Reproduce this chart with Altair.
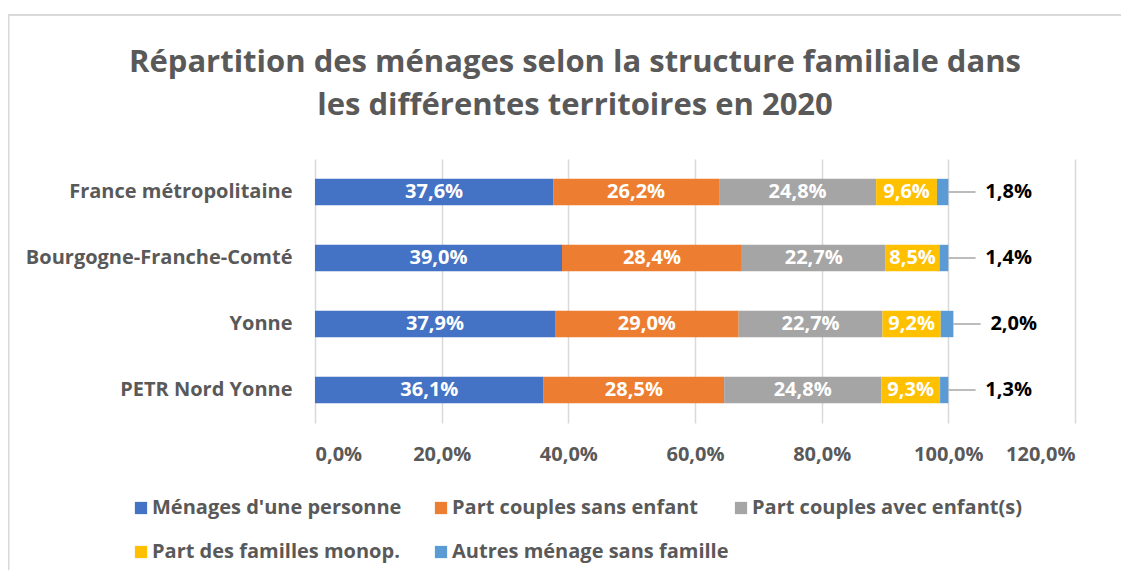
import altair as alt
import pandas as pd

territories = ["France métropolitaine", "Bourgogne-Franche-Comté", "Yonne", "PETR Nord Yonne"]
series = ["Ménages d'une personne", "Part couples sans enfant", "Part couples avec enfant(s)",
          "Part des familles monop.", "Autres ménage sans famille"]
colors = ["#4472C4", "#ED7D31", "#A5A5A5", "#FFC000", "#5B9BD5"]

personne = [37.6, 39.0, 37.9, 36.1]
sans_enfant = [26.2, 28.4, 29.0, 28.5]
avec_enfant = [24.8, 22.7, 22.7, 24.8]
monop = [9.6, 8.5, 9.2, 9.3]
autres = [1.8, 1.4, 2.0, 1.3]

x_ticks = [0, 20, 40, 60, 80, 100, 120]

values = [personne, sans_enfant, avec_enfant, monop, autres]
rows = []
for si, (s, vals) in enumerate(zip(series, values)):
    for ti, t in enumerate(territories):
        rows.append({"territory": t, "series": s, "order": si, "value": vals[ti]})
df = pd.DataFrame(rows)

# legend is filled column by column (2 rows): reorder domain so rows read like the reference
legend_domain = [series[0], series[3], series[1], series[4], series[2]]
legend_range = [colors[series.index(s)] for s in legend_domain]

FONT = "Open Sans"
GRAY = "#595959"
FS = 20

base = alt.Chart(df).transform_stack(
    stack="value", as_=["x0", "x1"], groupby=["territory"],
    sort=[alt.SortField("order", order="ascending")]
).transform_calculate(
    mid="(datum.x0 + datum.x1) / 2",
    label="replace(format(datum.value, '.1f'), '.', ',') + '%'",
    lead="datum.x1 + 4.3",
)

yenc = alt.Y("territory:N", sort=territories,
             scale=alt.Scale(paddingInner=0.6, paddingOuter=0.3),
             axis=alt.Axis(title=None, domain=False, ticks=False, labelPadding=23,
                           labelFont=FONT, labelFontSize=FS, labelFontWeight="bold",
                           labelColor=GRAY, labelLimit=400))

xscale = alt.Scale(domain=[0, 120], nice=False)

bars = base.mark_bar().encode(
    x=alt.X("x0:Q", scale=xscale,
            axis=alt.Axis(title=None, values=x_ticks, domain=False, ticks=True,
                          tickColor="#D9D9D9", tickSize=0, grid=True, gridColor="#D9D9D9",
                          gridWidth=1.5, labelPadding=21,
                          labelExpr="replace(format(datum.value, '.1f'), '.', ',') + '%'",
                          labelFont=FONT, labelFontSize=FS, labelFontWeight="bold",
                          labelColor=GRAY)),
    x2="x1:Q",
    y=yenc,
    color=alt.Color("series:N", scale=alt.Scale(domain=legend_domain, range=legend_range),
                    legend=alt.Legend(title=None, orient="none", legendX=-184, legendY=339,
                                      columns=3, gridAlign="all", columnPadding=2,
                                      rowPadding=24, symbolType="square", symbolSize=150,
                                      symbolStrokeWidth=0, labelFont=FONT, labelFontSize=20,
                                      labelFontWeight="bold", labelColor=GRAY, labelOffset=1,
                                      labelLimit=400, padding=0)),
    order=alt.Order("order:Q"),
)

inner = base.transform_filter("datum.order < 4").mark_text(
    font=FONT, fontSize=FS, fontWeight="bold", color="white"
).encode(x=alt.X("mid:Q", scale=xscale), y=alt.Y("territory:N", sort=territories), text="label:N")

last = base.transform_filter("datum.order == 4")
leader = last.mark_rule(color="#A6A6A6", strokeWidth=1.5).encode(
    x=alt.X("x1:Q", scale=xscale), x2="lead:Q", y=alt.Y("territory:N", sort=territories))
outer = last.mark_text(
    font=FONT, fontSize=FS, fontWeight="bold", color="black", align="left", dx=37
).encode(x=alt.X("x1:Q", scale=xscale), y=alt.Y("territory:N", sort=territories), text="label:N")

frame = alt.Chart(pd.DataFrame({"k": [0]})).mark_rect(
    fill=None, stroke="#D9D9D9", strokeWidth=2
).encode(x=alt.value(-306.5), x2=alt.value(830), y=alt.value(-144), y2=alt.value(440))

chart = alt.layer(frame, bars, inner, leader, outer).properties(
    width=760, height=264,
    autosize=alt.AutoSizeParams(type="none"),
    padding={"left": 307, "top": 151, "right": 46, "bottom": 147},
    title=alt.TitleParams(
        ["Répartition des ménages selon la structure familiale dans",
         "les différentes territoires en 2020"],
        font=FONT, fontSize=31, fontWeight="bold", color=GRAY, anchor="middle",
        frame="group", dx=-120, lineHeight=43, offset=-108),
).configure_view(stroke=None).resolve_scale(y="shared")

chart.save("out.html", embed_options={"renderer": "svg", "actions": False})
